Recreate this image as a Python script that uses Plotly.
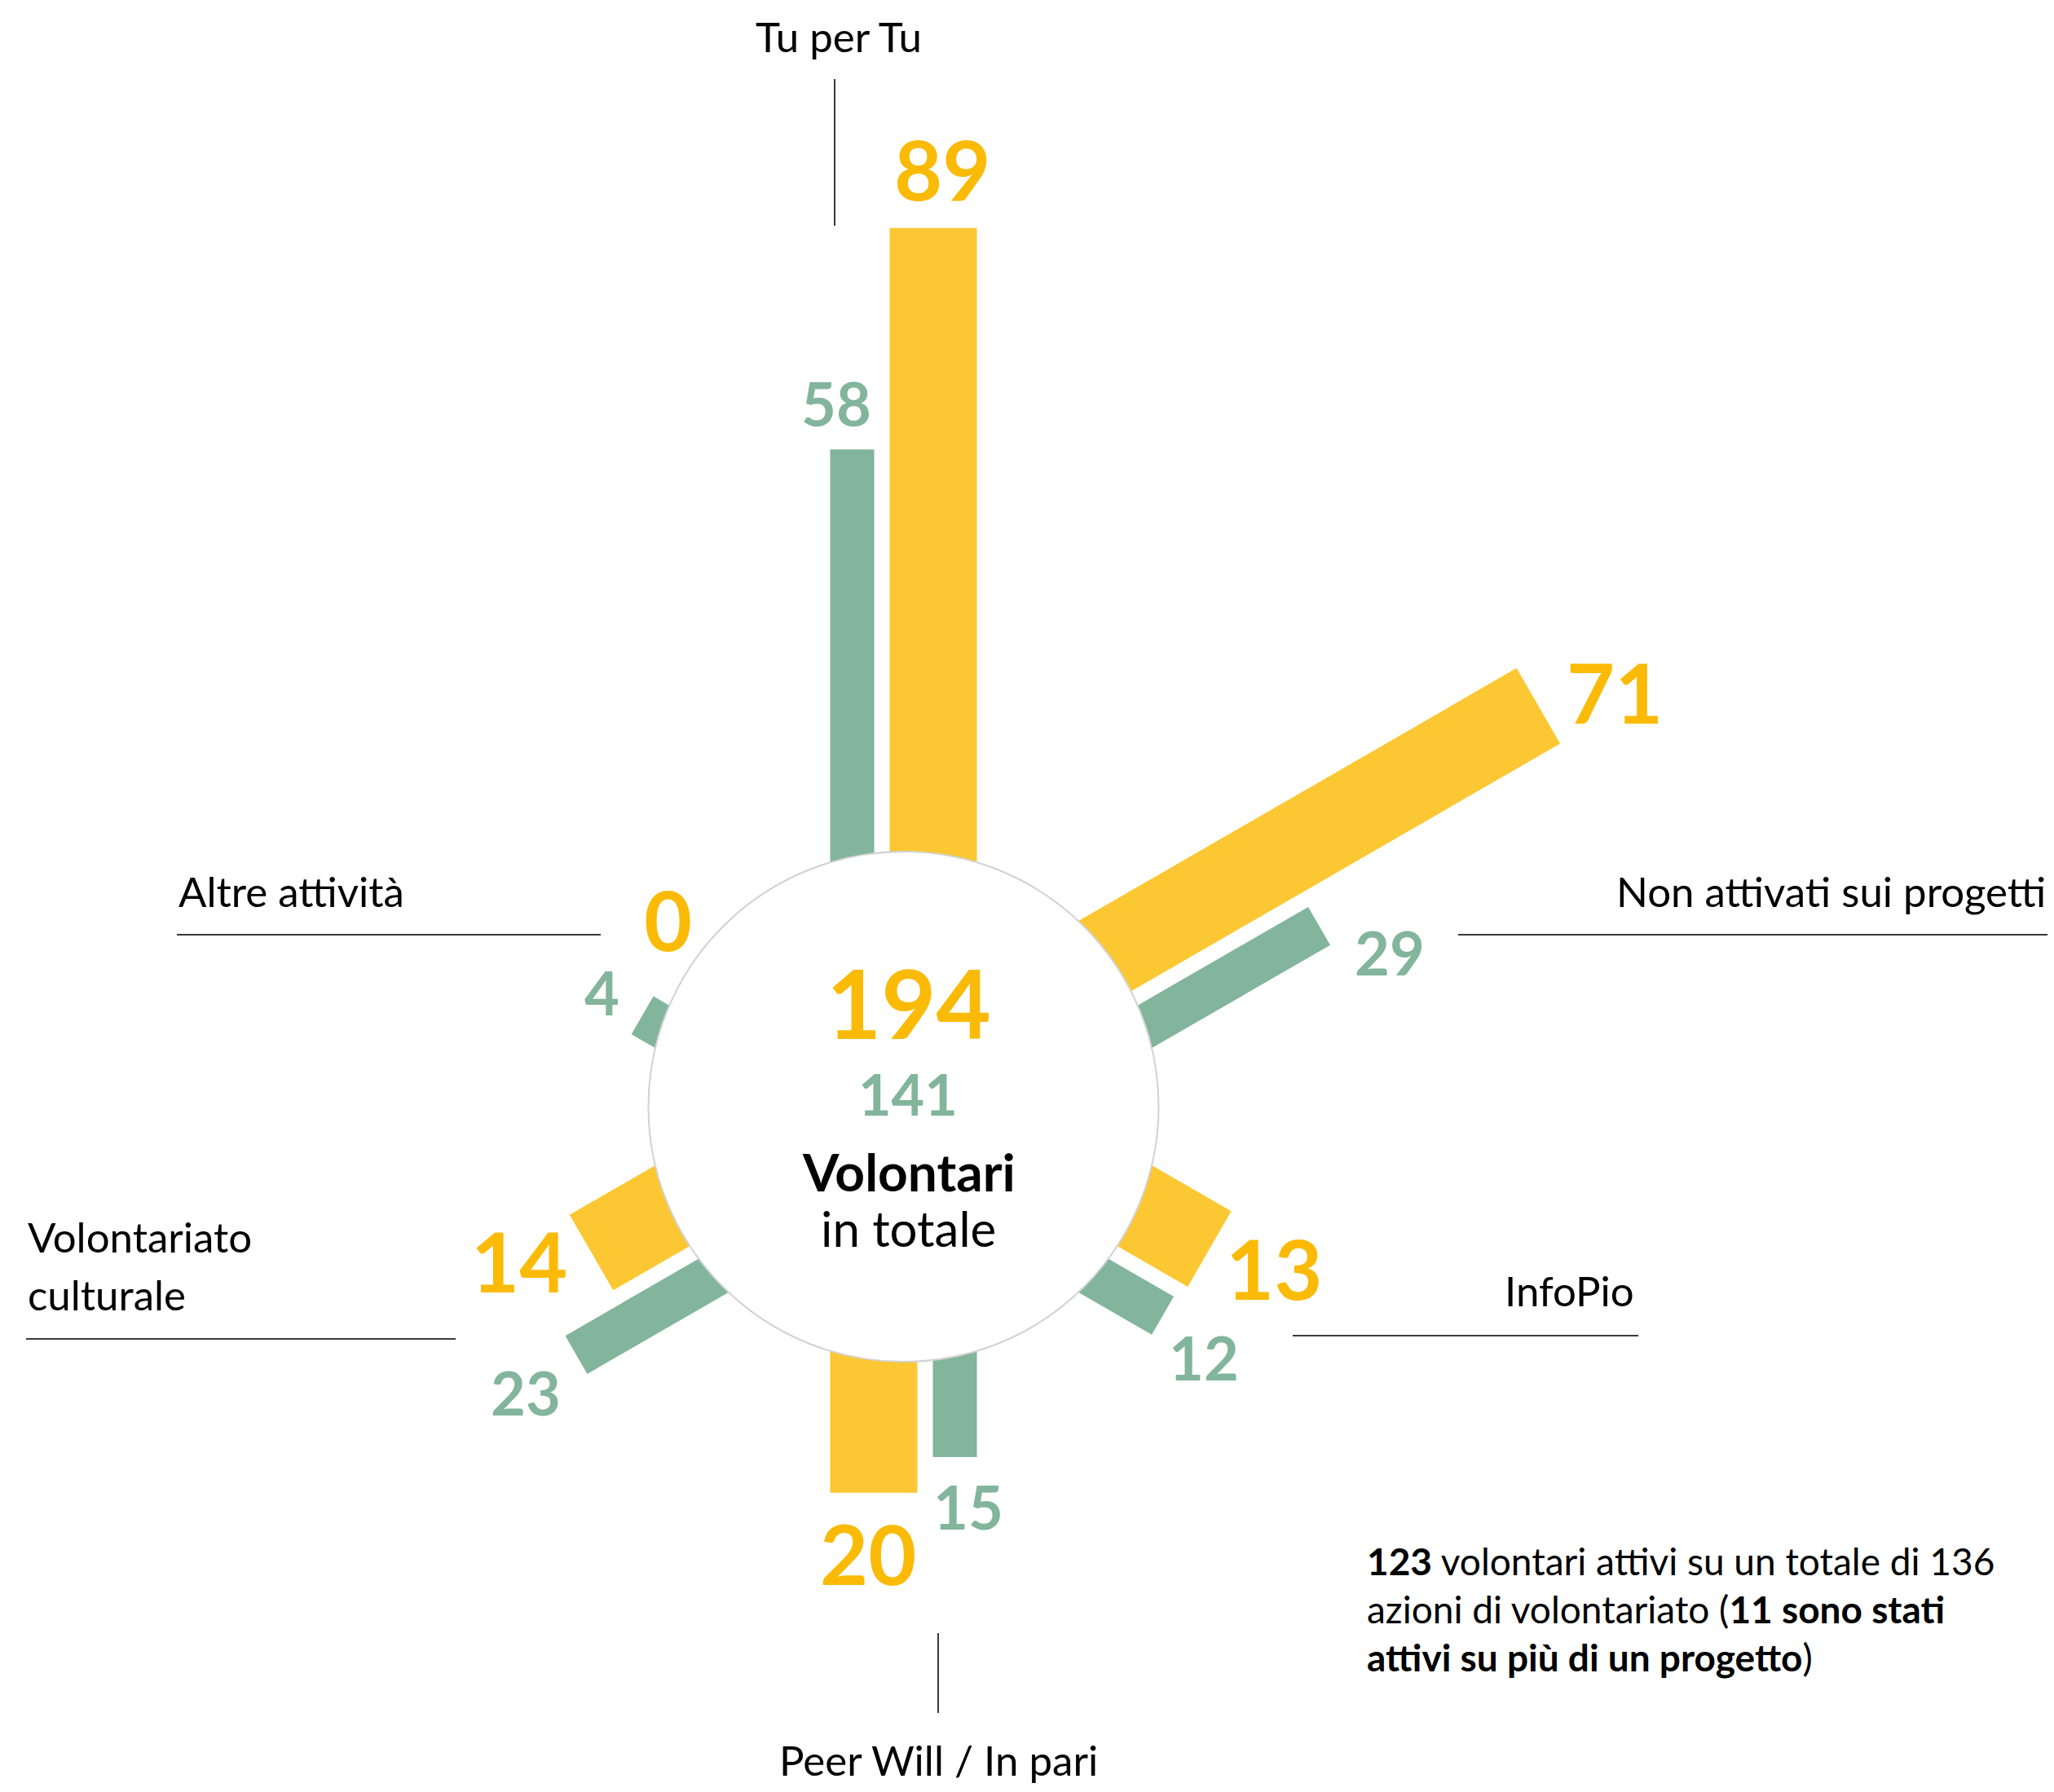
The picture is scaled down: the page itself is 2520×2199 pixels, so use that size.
import math
import plotly.graph_objects as go

# dati
categorie = ["Tu per Tu", "Non attivati sui progetti", "InfoPio",
             "Peer Will / In pari", "Volontariato<br>culturale", "Altre attività"]
volontari_gialli = [89, 71, 13, 20, 14, 0]
volontari_verdi = [58, 29, 12, 15, 23, 4]
totale_giallo = 194
totale_verde = 141
nota = ["<b>123</b> volontari attivi su un totale di 136",
        "azioni di volontariato (<b>11 sono stati</b>",
        "<b>attivi su più di un progetto</b>)"]

GIALLO = "#FBC833"
GIALLO_TXT = "#FBBA05"
VERDE = "#82B59B"
FONT = "Lato"

# geometria (pixel della pagina)
CX, CY = 1108.5, 1358
R_CERCHIO = 313
R0 = 298.5          # lunghezza a valore 0
K = 8.76            # pixel per volontario
W_G, W_V, GAP = 107, 54, 19
SPAN = W_G + GAP + W_V
OFF_G = SPAN / 2 - W_G / 2
OFF_V = SPAN / 2 - W_V / 2
angoli = [90 - 60 * i for i in range(6)]
lato_giallo = [-1, 1, 1, -1, -1, -1]   # +1 = giallo sul lato antiorario

# spostamenti delle etichette numeriche rispetto alla punta della barra
spost_g = [(11, -73), (94, -18), (79, 23), (-7, 74), (-89, 10), (-49, -50)]
spost_v = [(-20, -57), (86, 32), (50, 51), (16, 61), (-62, 46), (-50, -28)]


def punto(theta, a, c):
    # a: lungo l'asse, c: perpendicolare (antiorario)
    t = math.radians(theta)
    x = a * math.cos(t) - c * math.sin(t)
    y = a * math.sin(t) + c * math.cos(t)
    return CX + x, CY - y


def rettangolo(theta, off, w, L):
    pts = [punto(theta, 0, off - w / 2), punto(theta, L, off - w / 2),
           punto(theta, L, off + w / 2), punto(theta, 0, off + w / 2)]
    pts.append(pts[0])
    return [p[0] for p in pts], [p[1] for p in pts]


fig = go.Figure()
annots = []

for i, cat in enumerate(categorie):
    th = angoli[i]
    s = lato_giallo[i]
    for val, off, w, col, txtcol, size, spost in [
        (volontari_gialli[i], s * OFF_G, W_G, GIALLO, GIALLO_TXT, 102, spost_g[i]),
        (volontari_verdi[i], -s * OFF_V, W_V, VERDE, VERDE, 74, spost_v[i]),
    ]:
        L = R0 + val * K
        xs, ys = rettangolo(th, off, w, L)
        fig.add_trace(go.Scatter(x=xs, y=ys, mode="lines", fill="toself",
                                 fillcolor=col, line=dict(width=0),
                                 hoverinfo="skip", showlegend=False))
        tx, ty = punto(th, L, off)
        annots.append(dict(x=tx + spost[0], y=ty + spost[1], text=str(val),
                           showarrow=False, xanchor="center", yanchor="middle",
                           font=dict(family=FONT, size=size, color=txtcol, weight=700)))


def testo(x, base, txt, size, xanchor="left", color="black", weight=400):
    annots.append(dict(x=x, y=base - 0.36 * size, text=txt, showarrow=False,
                       xanchor=xanchor, yanchor="middle",
                       font=dict(family=FONT, size=size, color=color, weight=weight)))


# etichette categorie
FS_CAT = 51
testo(1029, 63, categorie[0], FS_CAT, "center")
testo(2512, 1112, categorie[1], FS_CAT, "right")
testo(2007, 1602, categorie[2], FS_CAT, "right")
testo(1151, 2178, categorie[3], FS_CAT, "center")
testo(32, 1536, "Volontariato", FS_CAT)
testo(32, 1607, "culturale", FS_CAT)
testo(217, 1112, categorie[5], FS_CAT)

# centro
annots.append(dict(x=CX + 6, y=1230, text=str(totale_giallo), showarrow=False,
                   xanchor="center", yanchor="middle",
                   font=dict(family=FONT, size=116, color=GIALLO_TXT, weight=700)))
annots.append(dict(x=CX + 5, y=1342, text=str(totale_verde), showarrow=False,
                   xanchor="center", yanchor="middle",
                   font=dict(family=FONT, size=70, color=VERDE, weight=700)))
testo(CX + 6, 1461, "Volontari", 64, "center", weight=700)
testo(CX + 6, 1529, "in totale", 60, "center")

# nota
for j, riga in enumerate(nota):
    testo(1675, 1932 + 59 * j, riga, 46)

linee = [
    (1024, 97, 1024, 277),
    (1789, 1147, 2512, 1147),
    (1586, 1639, 2010, 1639),
    (1151, 2004, 1151, 2102),
    (32, 1643, 559, 1643),
    (217, 1147, 737, 1147),
]
shapes = [dict(type="line", x0=a, y0=b, x1=c, y1=d, line=dict(color="#3a3a3a", width=2))
          for a, b, c, d in linee]
shapes.append(dict(type="circle", x0=CX - R_CERCHIO, x1=CX + R_CERCHIO,
                   y0=CY - R_CERCHIO, y1=CY + R_CERCHIO, layer="above",
                   fillcolor="white", line=dict(color="#d2d2d2", width=2)))

fig.update_layout(
    width=2504, height=2183,
    margin=dict(l=0, r=0, t=0, b=0),
    paper_bgcolor="white", plot_bgcolor="white",
    xaxis=dict(range=[8, 2512], visible=False, fixedrange=True),
    yaxis=dict(range=[2191, 8], visible=False, fixedrange=True),
    shapes=shapes,
    annotations=annots,
    showlegend=False,
)

fig.write_html("out.html")
